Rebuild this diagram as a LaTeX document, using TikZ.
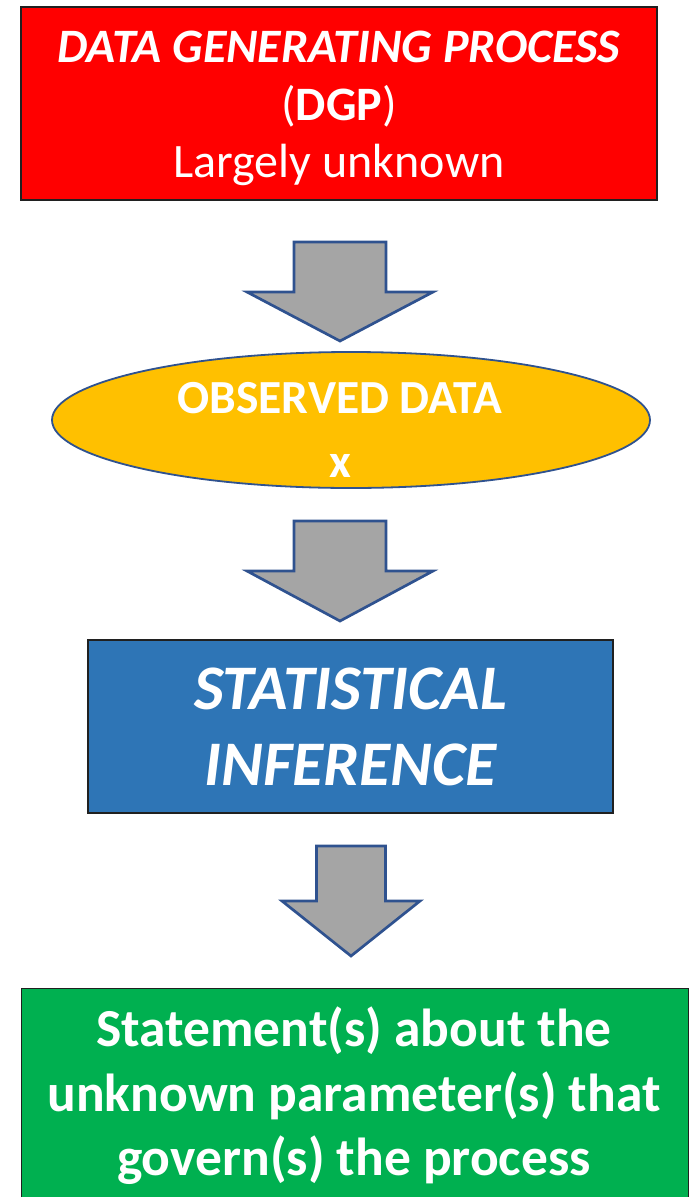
\documentclass[tikz,border=0pt]{standalone}
\usepackage{fontspec}
\setmainfont{Carlito}
\usepackage{tikz}
\usetikzlibrary{positioning, shapes.geometric}

\definecolor{dgpred}{HTML}{FF0000}
\definecolor{obsgold}{HTML}{FFC000}
\definecolor{infblue}{HTML}{2E75B6}
\definecolor{stmtgreen}{HTML}{00B050}
\definecolor{edgeblue}{HTML}{2F528F}
\definecolor{arrowgray}{HTML}{A5A5A5}
\definecolor{boxline}{HTML}{202020}

% block arrow: centre x, top y, half shaft, half head, head y, tip y
\newcommand{\blockarrow}[6]{%
    \draw[flowarrow] (#1-#3,#2) -- (#1+#3,#2) -- (#1+#3,#5) -- (#1+#4,#5)
        -- (#1,#6) -- (#1-#4,#5) -- (#1-#3,#5) -- cycle;
}

\tikzset{
    stage/.style={draw=boxline, line width=1.3pt, text=white, align=center, inner sep=0pt},
    flowarrow/.style={draw=edgeblue, fill=arrowgray, line width=2.7pt, line join=miter}
}

\begin{document}
\begin{tikzpicture}[x=1pt, y=-1pt]
            \useasboundingbox (0,0) rectangle (691,1197);
            \clip (0,0) rectangle (691,1197);

            \node[stage, fill=dgpred, minimum width=636pt, minimum height=193pt] (dgp) at (339,103.5) {};
            \node[text=white, align=center, font=\fontsize{48}{57.5}\selectfont]
                (dgptext) at ([yshift=-5pt]dgp.center)
                {\textbf{\textit{DATA GENERATING PROCESS}}\\ (\textbf{DGP})\\ Largely unknown};

            \node[ellipse, draw=edgeblue, line width=1.8pt, fill=obsgold,
                minimum width=598pt, minimum height=136pt] (obs) at (351,420) {};
            \node[text=white, align=center, font=\bfseries\fontsize{47.5}{64}\selectfont]
                (obstext) at ([xshift=-11pt, yshift=-10pt]obs.center) {OBSERVED DATA\\ x};

            \node[stage, fill=infblue, minimum width=525pt, minimum height=173pt,
                font=\bfseries\itshape\fontsize{63.5}{76}\selectfont] (inf) at (350.5,726.5)
                {STATISTICAL\\ INFERENCE};

            \node[stage, fill=stmtgreen, minimum width=667pt, minimum height=240pt,
                anchor=north west] (stmt) at (21,988) {};
            \node[text=white, align=center, font=\bfseries\fontsize{53.5}{64.5}\selectfont]
                (stmttext) at (354,1096)
                {Statement(s) about the\\ unknown parameter(s) that\\ govern(s) the process};

            \blockarrow{340}{242}{46}{93}{292}{341}
            \blockarrow{340}{521}{46}{93}{571}{621}
            \blockarrow{351}{846}{34.5}{69}{901}{956}
        \end{tikzpicture}
\end{document}
